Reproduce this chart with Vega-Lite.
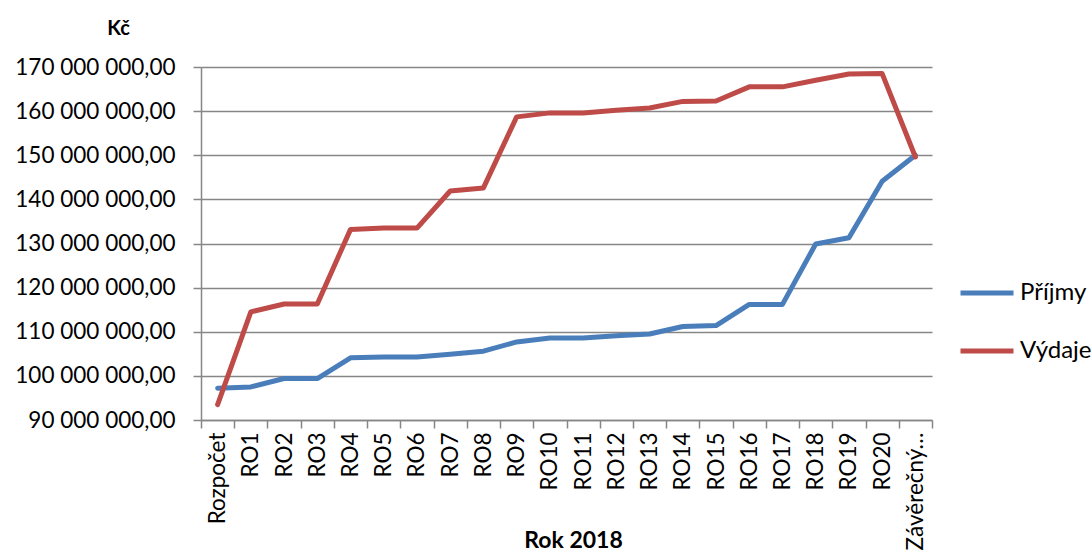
{
  "$schema": "https://vega.github.io/schema/vega-lite/v6.json",
  "width": 731,
  "height": 353,
  "autosize": {"type": "none"},
  "padding": {"left": 201, "top": 67, "right": 160, "bottom": 131},
  "background": "white",
  "config": {
    "locale": {"number": {"decimal": ",", "thousands": " ", "grouping": [3], "currency": ["", " Kč"]}},
    "font": "Lato",
    "view": {"stroke": null}
  },
  "data": {
    "values": [
      {"obdobi": "Rozpočet", "rada": "Příjmy", "kc": 97200000},
      {"obdobi": "RO1", "rada": "Příjmy", "kc": 97500000},
      {"obdobi": "RO2", "rada": "Příjmy", "kc": 99400000},
      {"obdobi": "RO3", "rada": "Příjmy", "kc": 99400000},
      {"obdobi": "RO4", "rada": "Příjmy", "kc": 104100000},
      {"obdobi": "RO5", "rada": "Příjmy", "kc": 104300000},
      {"obdobi": "RO6", "rada": "Příjmy", "kc": 104300000},
      {"obdobi": "RO7", "rada": "Příjmy", "kc": 104900000},
      {"obdobi": "RO8", "rada": "Příjmy", "kc": 105600000},
      {"obdobi": "RO9", "rada": "Příjmy", "kc": 107700000},
      {"obdobi": "RO10", "rada": "Příjmy", "kc": 108600000},
      {"obdobi": "RO11", "rada": "Příjmy", "kc": 108600000},
      {"obdobi": "RO12", "rada": "Příjmy", "kc": 109100000},
      {"obdobi": "RO13", "rada": "Příjmy", "kc": 109500000},
      {"obdobi": "RO14", "rada": "Příjmy", "kc": 111200000},
      {"obdobi": "RO15", "rada": "Příjmy", "kc": 111400000},
      {"obdobi": "RO16", "rada": "Příjmy", "kc": 116200000},
      {"obdobi": "RO17", "rada": "Příjmy", "kc": 116200000},
      {"obdobi": "RO18", "rada": "Příjmy", "kc": 129900000},
      {"obdobi": "RO19", "rada": "Příjmy", "kc": 131300000},
      {"obdobi": "RO20", "rada": "Příjmy", "kc": 144100000},
      {"obdobi": "Závěrečný účet", "rada": "Příjmy", "kc": 150000000},
      {"obdobi": "Rozpočet", "rada": "Výdaje", "kc": 93500000},
      {"obdobi": "RO1", "rada": "Výdaje", "kc": 114500000},
      {"obdobi": "RO2", "rada": "Výdaje", "kc": 116300000},
      {"obdobi": "RO3", "rada": "Výdaje", "kc": 116300000},
      {"obdobi": "RO4", "rada": "Výdaje", "kc": 133200000},
      {"obdobi": "RO5", "rada": "Výdaje", "kc": 133500000},
      {"obdobi": "RO6", "rada": "Výdaje", "kc": 133500000},
      {"obdobi": "RO7", "rada": "Výdaje", "kc": 141900000},
      {"obdobi": "RO8", "rada": "Výdaje", "kc": 142600000},
      {"obdobi": "RO9", "rada": "Výdaje", "kc": 158700000},
      {"obdobi": "RO10", "rada": "Výdaje", "kc": 159600000},
      {"obdobi": "RO11", "rada": "Výdaje", "kc": 159600000},
      {"obdobi": "RO12", "rada": "Výdaje", "kc": 160200000},
      {"obdobi": "RO13", "rada": "Výdaje", "kc": 160700000},
      {"obdobi": "RO14", "rada": "Výdaje", "kc": 162200000},
      {"obdobi": "RO15", "rada": "Výdaje", "kc": 162300000},
      {"obdobi": "RO16", "rada": "Výdaje", "kc": 165500000},
      {"obdobi": "RO17", "rada": "Výdaje", "kc": 165500000},
      {"obdobi": "RO18", "rada": "Výdaje", "kc": 167000000},
      {"obdobi": "RO19", "rada": "Výdaje", "kc": 168400000},
      {"obdobi": "RO20", "rada": "Výdaje", "kc": 168500000},
      {"obdobi": "Závěrečný účet", "rada": "Výdaje", "kc": 149600000}
    ]
  },
  "mark": {"type": "line", "strokeWidth": 5, "strokeJoin": "round", "strokeCap": "round"},
  "encoding": {
    "x": {
      "field": "obdobi",
      "type": "nominal",
      "sort": null,
      "bandPosition": 0.5,
      "scale": {"type": "band", "paddingInner": 0, "paddingOuter": 0},
      "axis": {
        "title": "Rok 2018",
        "titleFont": "Lato",
        "titleFontSize": 23,
        "titleFontWeight": "bold",
        "titleColor": "#000000",
        "titleX": 372,
        "titleY": 120,
        "titleBaseline": "middle",
        "labelAngle": -90,
        "labelFontSize": 22.5,
        "labelFontWeight": "normal",
        "labelColor": "#000000",
        "labelPadding": 4,
        "labelLimit": 200,
        "labelExpr": "datum.label == 'Závěrečný účet' ? 'Závěrečný…' : datum.label",
        "tickBand": "extent",
        "tickSize": 8,
        "tickColor": "#868686",
        "tickWidth": 1.5,
        "domainColor": "#868686",
        "domainWidth": 1.5,
        "grid": false
      }
    },
    "y": {
      "field": "kc",
      "type": "quantitative",
      "scale": {"domain": [90000000, 170000000], "nice": false, "zero": false},
      "axis": {
        "title": "Kč",
        "titleAngle": 0,
        "titleX": -83,
        "titleY": -39,
        "titleAlign": "center",
        "titleBaseline": "middle",
        "titleFont": "Lato",
        "titleFontSize": 20,
        "titleFontWeight": "bold",
        "titleColor": "#000000",
        "values": [90000000, 100000000, 110000000, 120000000, 130000000, 140000000, 150000000, 160000000, 170000000],
        "format": ",.2f",
        "labelFontSize": 22.5,
        "labelColor": "#000000",
        "labelPadding": 18,
        "tickSize": 8,
        "tickColor": "#868686",
        "tickWidth": 1.5,
        "domainColor": "#868686",
        "domainWidth": 1.5,
        "grid": true,
        "gridColor": "#868686",
        "gridWidth": 1.5
      }
    },
    "color": {
      "field": "rada",
      "type": "nominal",
      "scale": {"domain": ["Příjmy", "Výdaje"], "range": ["#4A7EBB", "#BE4B48"]},
      "legend": {
        "title": null,
        "orient": "none",
        "legendX": 757,
        "legendY": 197,
        "symbolType": "stroke",
        "symbolSize": 2809,
        "symbolStrokeWidth": 5,
        "labelFontSize": 24,
        "labelColor": "#000000",
        "labelOffset": 4,
        "rowPadding": 17
      }
    }
  }
}
